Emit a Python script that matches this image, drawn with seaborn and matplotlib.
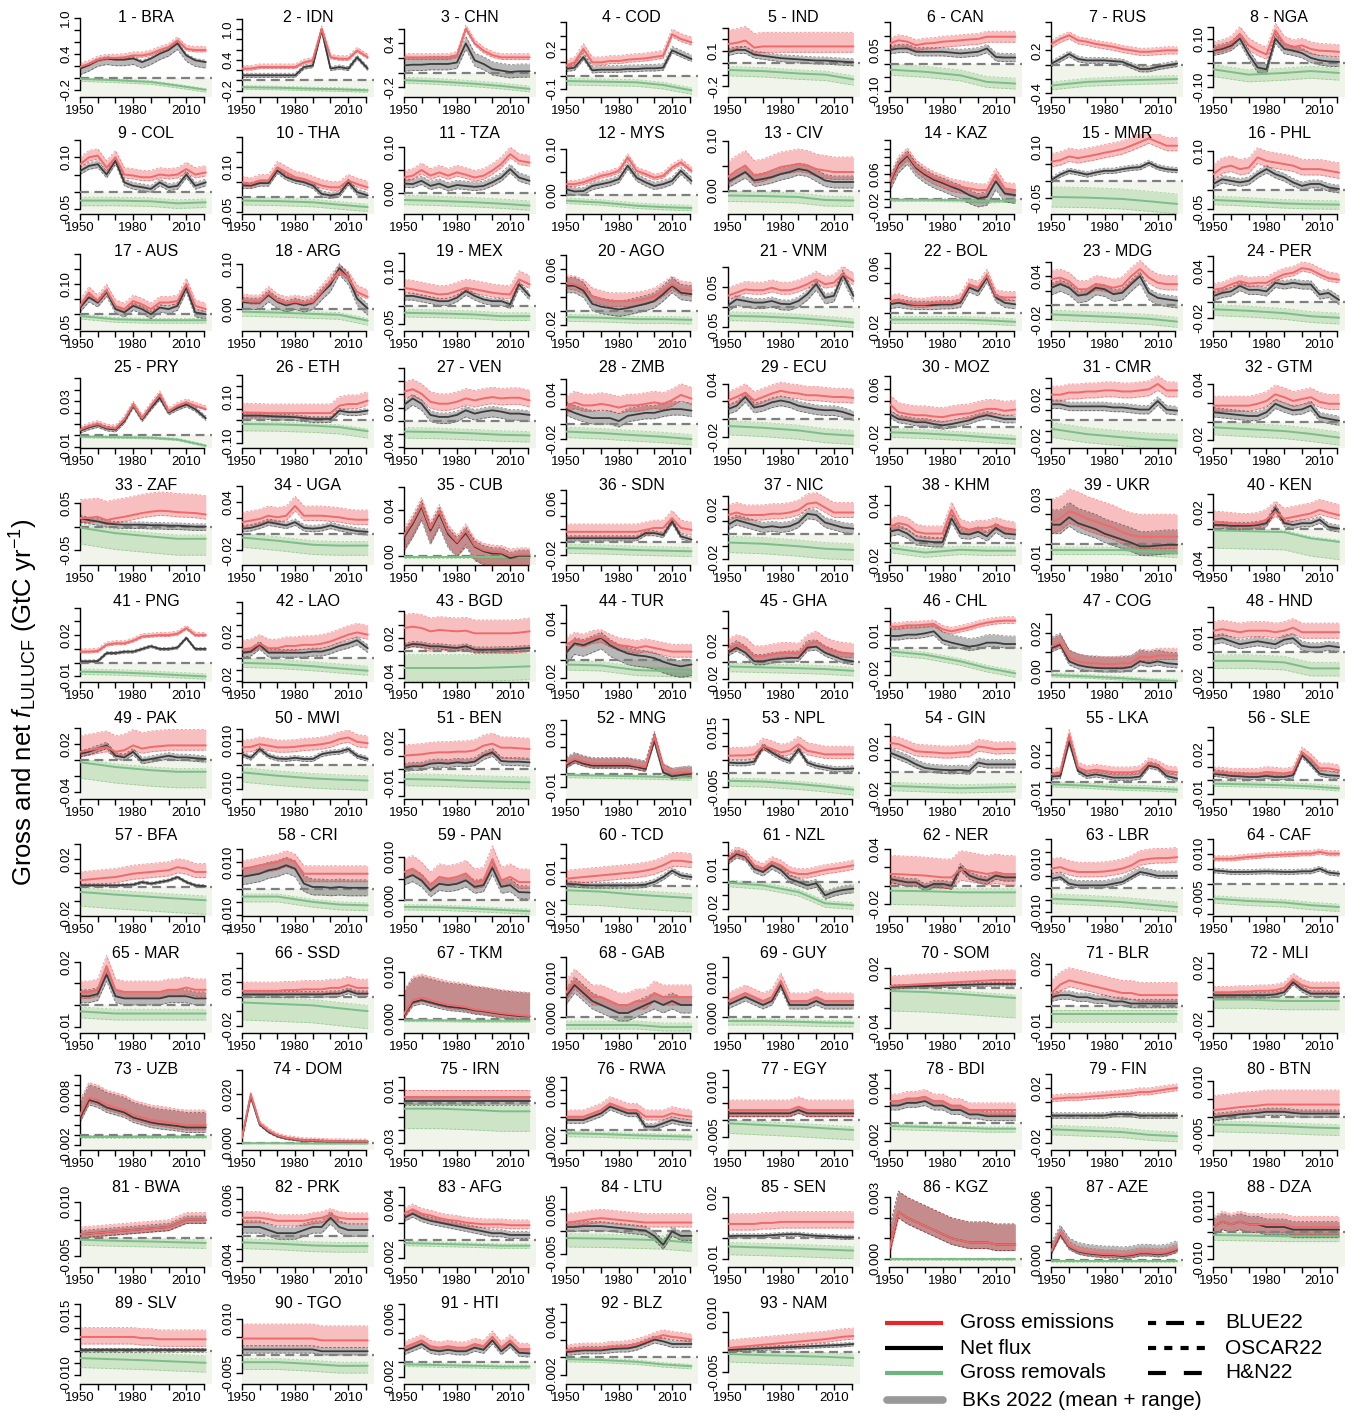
import numpy as np
import matplotlib
matplotlib.use("Agg")
import matplotlib.pyplot as plt
import seaborn as sns

sns.set_theme(style="white")
plt.rcParams['font.family'] = ['Liberation Sans', 'DejaVu Sans']
plt.rcParams['mathtext.fontset'] = 'custom'
plt.rcParams['mathtext.rm'] = 'Liberation Sans'
plt.rcParams['mathtext.it'] = 'Liberation Sans:italic'
plt.rcParams['mathtext.bf'] = 'Liberation Sans:bold'
plt.rcParams['axes.unicode_minus'] = False
for k in ['text.color', 'xtick.color', 'ytick.color', 'axes.labelcolor', 'axes.edgecolor']:
    plt.rcParams[k] = 'black'

# ------------------------------------------------------------------ data
YEARS = [1950, 1955, 1960, 1965, 1970, 1975, 1980, 1985, 1990, 1995, 2000, 2005, 2010, 2015, 2021]
RYEARS = [1950, 1970, 1990, 2005, 2021]

CODES = ["BRA", "IDN", "CHN", "COD", "IND", "CAN", "RUS", "NGA",
         "COL", "THA", "TZA", "MYS", "CIV", "KAZ", "MMR", "PHL",
         "AUS", "ARG", "MEX", "AGO", "VNM", "BOL", "MDG", "PER",
         "PRY", "ETH", "VEN", "ZMB", "ECU", "MOZ", "CMR", "GTM",
         "ZAF", "UGA", "CUB", "SDN", "NIC", "KHM", "UKR", "KEN",
         "PNG", "LAO", "BGD", "TUR", "GHA", "CHL", "COG", "HND",
         "PAK", "MWI", "BEN", "MNG", "NPL", "GIN", "LKA", "SLE",
         "BFA", "CRI", "PAN", "TCD", "NZL", "NER", "LBR", "CAF",
         "MAR", "SSD", "TKM", "GAB", "GUY", "SOM", "BLR", "MLI",
         "UZB", "DOM", "IRN", "RWA", "EGY", "BDI", "FIN", "BTN",
         "BWA", "PRK", "AFG", "LTU", "SEN", "KGZ", "AZE", "DZA",
         "SLV", "TGO", "HTI", "BLZ", "NAM"]

YLIMS = [(-.32, 1.01), (-.32, 1.23), (-.33, .76), (-.16, .44), (-.29, .39), (-.122, .17), (-.45, .665), (-.143, .19),
         (-.065, .168), (-.056, .211), (-.044, .127), (-.041, .133), (-.047, .113), (-.036, .155), (-.099, .14), (-.062, .143),
         (-.056, .211), (-.048, .13), (-.071, .157), (-.029, .086), (-.06, .14), (-.023, .082), (-.036, .075), (-.037, .066),
         (-.011, .059), (-.124, .229), (-.041, .08), (-.032, .075), (-.033, .058), (-.034, .093), (-.026, .049), (-.028, .057),
         (-.082, .089), (-.038, .061), (-.008, .062), (-.035, .088), (-.025, .039), (-.023, .061), (-.014, .0396), (-.04, .05),
         (-.014, .044), (-.021, .05), (-.046, .074), (-.024, .063), (-.023, .07), (-.0255, .0345), (-.006, .0366), (-.02, .033),
         (-.049, .051), (-.014, .019), (-.0225, .0375), (-.019, .041), (-.0094, .02), (-.023, .044), (-.013, .047), (-.014, .046),
         (-.0205, .036), (-.0103, .0198), (-.0036, .0148), (-.0214, .0357), (-.0255, .0345), (-.033, .054), (-.0115, .0214), (-.0108, .0159),
         (-.013, .024), (-.025, .03), (-.003, .014), (-.004, .016), (-.004, .016), (-.045, .035), (-.013, .025), (-.025, .03),
         (-.003, .013), (-.003, .03), (-.035, .025), (-.003, .009), (-.009, .015), (-.003, .006), (-.025, .033), (-.009, .013),
         (-.008, .014), (-.005, .008), (-.003, .006), (-.008, .01), (-.014, .025), (-.0004, .0035), (-.0008, .008), (-.013, .017),
         (-.014, .02), (-.008, .014), (-.003, .008), (-.003, .006), (-.008, .012)]

YSTEPS = [.2, .2, .2, .1, .1, .05, .2, .05,
          .05, .05, .05, .05, .05, .02, .05, .05,
          .05, .05, .05, .02, .05, .02, .02, .02,
          .01, .05, .02, .02, .02, .02, .01, .02,
          .05, .02, .02, .02, .01, .02, .01, .02,
          .01, .01, .02, .02, .02, .01, .01, .01,
          .02, .005, .01, .01, .005, .01, .01, .01,
          .01, .005, .005, .01, .01, .02, .005, .005,
          .01, .01, .005, .005, .005, .02, .01, .01,
          .002, .01, .01, .002, .005, .002, .01, .005,
          .005, .002, .002, .005, .01, .001, .002, .005,
          .005, .005, .002, .002, .005]

YTICKLABELS = [["-0.2", "0.4", "1.0"], ["-0.2", "0.4", "1.0"], ["-0.2", "0.4"], ["-0.1", "0.2"],
               ["-0.2", "0.1"], ["-0.10", "0.05"], ["-0.4", "0.2"], ["-0.10", "0.10"],
               ["-0.05", "0.10"], ["-0.05", "0.10"], ["0.00", "0.10"], ["0.00", "0.10"],
               ["0.00", "0.10"], ["-0.02", "0.06"], ["-0.05", "0.10"], ["-0.05", "0.10"],
               ["-0.05", "0.10"], ["0.00", "0.10"], ["-0.05", "0.10"], ["-0.02", "0.06"],
               ["-0.05", "0.05"], ["-0.02", "0.06"], ["-0.02", "0.04"], ["-0.02", "0.04"],
               ["-0.01", "0.03"], ["-0.10", "0.10"], ["-0.04", "0.02"], ["-0.02", "0.04"],
               ["-0.02", "0.04"], ["-0.02", "0.06"], ["-0.02", "0.02"], ["-0.02", "0.04"],
               ["-0.05", "0.05"], ["-0.02", "0.04"], ["0.00", "0.04"], ["-0.02", "0.06"],
               ["-0.02", "0.02"], ["-0.02", "0.04"], ["-0.01", "0.03"], ["-0.04", "0.02"],
               ["-0.01", "0.02"], ["-0.02", "0.02"], ["-0.04", "0.02"], ["-0.02", "0.04"],
               ["-0.02", "0.02"], ["-0.02", "0.01"], ["0.00", "0.02"], ["-0.02", "0.01"],
               ["-0.04", "0.02"], ["-0.010", "0.010"], ["-0.01", "0.02"], ["-0.01", "0.03"],
               ["-0.005", "0.015"], ["-0.02", "0.02"], ["-0.01", "0.02"], ["-0.01", "0.02"],
               ["-0.02", "0.02"], ["-0.010", "0.010"], ["0.000", "0.010"], ["-0.02", "0.01"],
               ["-0.02", "0.01"], ["-0.02", "0.04"], ["-0.010", "0.010"], ["-0.005", "0.010"],
               ["-0.01", "0.02"], ["-0.02", "0.01"], ["0.000", "0.010"], ["0.000", "0.010"],
               ["0.000", "0.010"], ["-0.04", "0.02"], ["-0.01", "0.02"], ["-0.02", "0.02"],
               ["-0.002", "0.008"], ["0.000", "0.020"], ["-0.03", "0.01"], ["-0.002", "0.006"],
               ["-0.005", "0.010"], ["-0.002", "0.004"], ["-0.02", "0.02"], ["-0.005", "0.010"],
               ["-0.005", "0.010"], ["-0.004", "0.006"], ["-0.002", "0.004"], ["-0.005", "0.005"],
               ["-0.01", "0.02"], ["0.000", "0.003"], ["0.000", "0.006"], ["-0.010", "0.010"],
               ["-0.010", "0.015"], ["-0.005", "0.010"], ["-0.002", "0.006"], ["-0.002", "0.004"],
               ["-0.005", "0.010"]]

# gross emissions (mean of bookkeeping models) at YEARS
GROSS = [
    [.18, .23, .30, .33, .33, .34, .37, .37, .40, .46, .51, .62, .48, .46, .46],
    [.23, .23, .26, .26, .26, .26, .26, .35, .39, 1.0, .45, .42, .42, .58, .45],
    [.21, .21, .21, .21, .21, .21, .24, .60, .40, .30, .24, .21, .21, .21, .21],
    [.075, .10, .20, .10, .10, .11, .11, .12, .125, .13, .14, .15, .31, .275, .25],
    [.16, .17, .19, .13, .14, .14, .14, .14, .14, .14, .14, .14, .14, .14, .14],
    [.073, .085, .08, .067, .073, .075, .08, .082, .085, .088, .09, .098, .098, .098, .098],
    [.29, .36, .41, .34, .32, .29, .27, .25, .22, .20, .18, .18, .19, .20, .20],
    [.057, .065, .08, .12, .072, .05, .034, .134, .08, .065, .072, .057, .05, .048, .045],
    [.08, .10, .105, .07, .10, .05, .047, .042, .042, .05, .047, .05, .066, .05, .056],
    [.05, .044, .056, .056, .10, .083, .067, .061, .05, .039, .033, .033, .056, .044, .033],
    [.034, .038, .05, .038, .045, .038, .045, .04, .034, .038, .049, .063, .084, .07, .066],
    [.024, .024, .028, .035, .042, .046, .053, .082, .053, .046, .038, .042, .06, .071, .053],
    [.027, .04, .05, .03, .033, .04, .047, .05, .053, .05, .043, .04, .037, .037, .037],
    [.042, .087, .107, .078, .062, .05, .042, .033, .029, .025, .021, .021, .058, .025, .021],
    [.057, .062, .073, .068, .073, .078, .084, .089, .095, .105, .116, .127, .116, .105, .105],
    [.04, .057, .062, .053, .057, .083, .074, .07, .066, .062, .053, .053, .053, .049, .044],
    [.028, .072, .044, .08, .028, .017, .044, .033, .017, .039, .039, .044, .10, .028, .017],
    [.02, .017, .017, .036, .02, .013, .017, .013, .017, .039, .062, .085, .07, .039, .028],
    [.052, .048, .043, .038, .033, .035, .043, .052, .048, .043, .038, .035, .033, .076, .062],
    [.04, .038, .033, .021, .017, .014, .014, .014, .015, .017, .021, .029, .038, .031, .029],
    [.028, .036, .044, .042, .042, .048, .042, .042, .048, .057, .069, .057, .061, .082, .065],
    [.016, .018, .014, .012, .012, .014, .014, .014, .018, .038, .034, .05, .023, .021, .021],
    [.036, .038, .033, .022, .022, .029, .027, .024, .027, .04, .05, .038, .031, .029, .029],
    [.016, .018, .023, .027, .024, .025, .025, .031, .036, .038, .044, .042, .036, .031, .029],
    [.005, .008, .01, .007, .006, .014, .027, .015, .026, .036, .021, .026, .029, .026, .023],
    [.034, .032, .032, .03, .03, .03, .03, .03, .03, .03, .03, .063, .07, .07, .085],
    [.044, .048, .041, .029, .026, .026, .029, .034, .031, .034, .036, .034, .035, .035, .031],
    [.022, .029, .025, .025, .027, .025, .022, .025, .025, .027, .029, .027, .032, .039, .034],
    [.021, .025, .03, .021, .025, .029, .032, .03, .029, .027, .027, .026, .025, .025, .024],
    [.036, .023, .02, .018, .018, .016, .015, .018, .02, .021, .025, .028, .028, .025, .027],
    [.024, .024, .026, .026, .027, .027, .028, .028, .027, .027, .028, .029, .034, .028, .028],
    [.017, .017, .017, .017, .017, .019, .022, .029, .026, .022, .024, .026, .021, .019, .019],
    [.018, .019, .021, .014, .018, .021, .025, .029, .032, .034, .033, .031, .03, .029, .026],
    [.015, .017, .019, .023, .021, .023, .035, .023, .023, .023, .022, .021, .019, .018, .018],
    [.018, .03, .045, .024, .039, .021, .012, .022, .009, .005, .0035, .003, .0, .001, .001],
    [.016, .016, .016, .016, .016, .016, .016, .016, .016, .019, .022, .022, .037, .022, .019],
    [.015, .017, .015, .015, .015, .016, .016, .017, .019, .024, .025, .021, .017, .017, .017],
    [.017, .021, .019, .012, .01, .01, .01, .035, .017, .014, .016, .016, .019, .016, .014],
    [.015, .017, .022, .02, .017, .015, .013, .011, .008, .006, .005, .005, .005, .005, .005],
    [.009, .008, .007, .006, .006, .007, .011, .02, .012, .014, .016, .018, .022, .019, .016],
    [.008, .008, .0085, .013, .014, .014, .016, .019, .0195, .02, .02, .021, .025, .02, .02],
    [.008, .009, .013, .009, .009, .011, .011, .012, .012, .013, .015, .018, .021, .023, .021],
    [.035, .037, .035, .03, .032, .031, .03, .031, .027, .027, .027, .027, .027, .028, .03],
    [.016, .022, .02, .024, .025, .02, .016, .015, .013, .015, .013, .011, .009, .009, .009],
    [.015, .02, .017, .007, .007, .009, .011, .011, .01, .02, .024, .017, .013, .011, .01],
    [.016, .016, .017, .017, .0175, .018, .014, .0125, .014, .0155, .0175, .019, .02, .0205, .0205],
    [.013, .015, .007, .005, .004, .004, .0035, .0035, .004, .004, .0075, .007, .008, .008, .008],
    [.014, .015, .014, .013, .014, .014, .014, .013, .014, .016, .013, .013, .013, .013, .013],
    [.01, .012, .014, .016, .01, .012, .018, .014, .016, .017, .018, .018, .018, .018, .018],
    [.0073, .0075, .0086, .008, .0073, .0073, .0075, .008, .0082, .0086, .0093, .0107, .0114, .0096, .009],
    [.01, .0105, .011, .012, .0125, .0125, .013, .013, .014, .0175, .019, .016, .016, .0155, .015],
    [.0075, .011, .009, .0075, .0075, .0075, .0075, .0075, .006, .005, .028, .004, .0, .001, .001],
    [.0065, .0066, .0066, .007, .010, .009, .0077, .0083, .0107, .0083, .0077, .007, .007, .007, .007],
    [.024, .023, .02, .017, .0164, .016, .0153, .0153, .016, .0164, .021, .02, .0186, .019, .019],
    [.0055, .007, .035, .0105, .008, .009, .008, .007, .007, .007, .008, .014, .012, .008, .007],
    [.006, .0058, .005, .005, .005, .005, .0063, .0058, .005, .0063, .021, .016, .009, .009, .0075],
    [.0047, .0053, .0059, .0065, .007, .0082, .0094, .01, .0106, .0112, .0118, .014, .013, .0106, .0106],
    [.0075, .008, .0088, .0094, .01, .0113, .01, .0056, .0056, .0056, .0056, .0056, .0056, .0056, .0056],
    [.0065, .0073, .0058, .0035, .0054, .005, .0054, .0062, .0042, .0046, .0095, .0046, .0054, .0042, .0042],
    [.0052, .0058, .0064, .007, .0076, .0082, .0088, .0094, .01, .011, .0124, .0148, .018, .018, .017],
    [.0175, .0225, .02, .0125, .01, .015, .0125, .0075, .006, .006, .0075, .009, .01, .011, .0125],
    [.0127, .0125, .012, .0115, .011, .01, .009, .009, .018, .0164, .0145, .0127, .0145, .0127, .0127],
    [.008, .0086, .0073, .0066, .0066, .0066, .0068, .0073, .008, .0093, .0114, .012, .0123, .0123, .0127],
    [.0083, .0083, .0083, .0086, .0089, .0091, .0094, .0095, .0097, .0098, .01, .01, .0106, .01, .01],
    [.006, .006, .007, .018, .007, .006, .006, .006, .006, .006, .007, .007, .008, .007, .007],
    [.004, .004, .004, .004, .004, .0045, .0045, .005, .005, .005, .006, .006, .008, .006, .006],
    [.001, .004, .0045, .004, .0035, .003, .0028, .0025, .002, .0018, .0015, .0012, .001, .0008, .0006],
    [.006, .009, .007, .005, .005, .004, .003, .003, .004, .004, .006, .005, .005, .005, .005],
    [.004, .005, .006, .005, .004, .005, .009, .004, .004, .004, .005, .004, .004, .004, .004],
    [.002, .0025, .003, .0035, .004, .0045, .005, .0055, .006, .0065, .007, .0075, .008, .008, .008],
    [.006, .01, .012, .011, .01, .009, .008, .007, .006, .006, .005, .005, .005, .005, .005],
    [.003, .003, .003, .0035, .0035, .004, .004, .0045, .006, .012, .008, .006, .006, .006, .006],
    [.004, .0075, .007, .006, .0055, .005, .004, .0035, .003, .0028, .0025, .0022, .002, .002, .002],
    [.002, .02, .008, .005, .003, .002, .0015, .001, .001, .0008, .0006, .0006, .0005, .0005, .0005],
    [.005, .005, .005, .005, .005, .005, .005, .005, .005, .005, .005, .005, .005, .005, .005],
    [.002, .002, .002, .0025, .003, .004, .0035, .003, .003, .002, .002, .002, .0025, .0022, .002],
    [.003, .003, .003, .003, .003, .003, .003, .003, .004, .003, .003, .003, .003, .003, .003],
    [.0025, .0025, .0028, .0028, .003, .0025, .0025, .002, .002, .0015, .0015, .0015, .0015, .0015, .0015],
    [.012, .0125, .013, .013, .0135, .014, .0145, .015, .0155, .016, .017, .017, .018, .019, .02],
    [.002, .0022, .0025, .0028, .003, .0032, .0035, .0035, .0035, .0035, .0035, .0035, .0035, .0035, .0035],
    [.001, .0012, .0014, .0016, .0018, .002, .0022, .0024, .0026, .0028, .003, .004, .005, .005, .005],
    [.003, .003, .003, .0028, .0025, .0025, .0025, .0025, .0028, .003, .0035, .003, .0028, .0028, .0028],
    [.003, .0035, .003, .0028, .0025, .0023, .0022, .002, .0019, .0018, .0018, .0018, .0017, .0017, .0017],
    [.002, .0022, .0025, .0028, .003, .0028, .0026, .0024, .0022, .002, .002, .002, .002, .002, .002],
    [.007, .007, .007, .007, .0075, .0075, .008, .008, .008, .008, .008, .008, .008, .008, .008],
    [.0005, .0023, .002, .0018, .0016, .0014, .0012, .001, .0009, .0008, .0008, .0008, .0007, .0007, .0007],
    [.001, .003, .0015, .001, .0008, .0007, .0006, .0006, .0005, .0006, .0008, .0008, .0007, .0008, .0012],
    [.002, .004, .003, .004, .003, .003, .003, .003, .003, .002, .002, .002, .002, .002, .002],
    [.006, .006, .006, .006, .006, .006, .006, .0055, .0055, .005, .005, .005, .005, .005, .005],
    [.0045, .0045, .0045, .0045, .0045, .0045, .0045, .0045, .0045, .004, .004, .004, .004, .004, .004],
    [.002, .0025, .003, .0022, .002, .0022, .002, .002, .0025, .0022, .0035, .002, .003, .0018, .0018],
    [.0008, .0009, .001, .001, .001, .0012, .0012, .0013, .0015, .0018, .0022, .0025, .0023, .0022, .002],
    [.001, .0012, .0014, .0016, .0018, .002, .0022, .0024, .0026, .0028, .003, .0032, .0035, .0038, .004],
]

# net flux at YEARS
NET = [
    [.15, .21, .29, .32, .30, .30, .32, .26, .32, .40, .46, .57, .37, .29, .26],
    [.10, .10, .10, .10, .10, .10, .10, .26, .29, .98, .23, .26, .23, .45, .23],
    [.10, .11, .11, .12, .12, .12, .14, .40, .17, .12, .05, .03, .01, .02, .02],
    [.05, .06, .14, .04, .045, .045, .045, .05, .05, .055, .055, .06, .19, .16, .125],
    [.09, .11, .11, .07, .06, .05, .04, .035, .03, .025, .02, .02, .015, .01, .005],
    [.05, .055, .055, .043, .043, .043, .043, .04, .037, .04, .043, .055, .024, .022, .022],
    [.015, .08, .15, .08, .06, .06, .06, .05, .04, -.01, -.06, -.06, -.03, -.01, .015],
    [.05, .057, .07, .10, .034, -.02, -.028, .10, .057, .05, .04, .02, .01, .005, .003],
    [.06, .075, .08, .05, .09, .027, .017, .013, .008, .027, .013, .017, .05, .017, .027],
    [.039, .039, .047, .047, .089, .067, .056, .05, .039, .011, .006, .011, .05, .017, .006],
    [.021, .02, .027, .016, .021, .013, .018, .016, .014, .016, .024, .034, .052, .034, .027],
    [.013, .008, .009, .02, .024, .028, .035, .064, .038, .028, .02, .024, .031, .053, .031],
    [.017, .027, .037, .02, .023, .027, .033, .037, .043, .04, .03, .02, .017, .017, .017],
    [.038, .082, .103, .074, .058, .046, .038, .029, .021, .009, .001, .005, .042, .013, .009],
    [.003, .019, .03, .025, .019, .025, .03, .03, .035, .039, .041, .054, .041, .035, .032],
    [.015, .027, .023, .019, .023, .04, .053, .04, .032, .019, .01, .015, .015, .006, .002],
    [.022, .056, .039, .075, .017, .006, .028, .017, .0, .022, .017, .028, .089, .006, .0],
    [.017, .015, .015, .032, .017, .009, .015, .009, .015, .036, .055, .092, .07, .024, .002],
    [.029, .029, .024, .019, .014, .014, .024, .043, .029, .019, .014, .014, .005, .062, .029],
    [.036, .036, .029, .01, .006, .004, .002, .004, .007, .01, .014, .024, .036, .026, .024],
    [.003, .019, .015, .011, .011, .015, .008, .007, .015, .032, .057, .023, .028, .082, .028],
    [.012, .014, .012, .011, .011, .011, .012, .012, .014, .034, .029, .047, .021, .014, .012],
    [.024, .029, .024, .013, .015, .024, .022, .015, .017, .029, .04, .017, .01, .008, .006],
    [.008, .012, .014, .021, .016, .016, .014, .025, .023, .025, .023, .023, .01, .012, .003],
    [.004, .007, .009, .006, .005, .0125, .026, .014, .024, .033, .02, .024, .027, .023, .015],
    [.019, .019, .019, .017, .015, .014, .012, .008, .004, .004, .004, .041, .034, .034, .041],
    [.024, .034, .026, .009, .006, .006, .009, .016, .011, .014, .016, .014, .011, .011, .009],
    [.02, .015, .011, .008, .008, .008, .004, .011, .013, .015, .015, .018, .02, .02, .018],
    [.011, .015, .025, .013, .015, .019, .021, .019, .015, .013, .011, .01, .01, .008, .004],
    [.02, .012, .01, .007, .007, .004, .002, .004, .007, .01, .015, .018, .015, .012, .012],
    [.015, .015, .013, .013, .013, .013, .013, .012, .012, .011, .01, .01, .018, .01, .009],
    [.01, .009, .008, .007, .006, .006, .01, .019, .015, .012, .013, .017, .005, .003, .001],
    [.018, .014, .011, .007, .005, .004, .004, .004, .003, .003, .002, .002, .001, .0, .0],
    [.007, .008, .011, .015, .013, .011, .015, .008, .007, .008, .011, .008, .006, .004, .003],
    [.016, .028, .043, .022, .037, .019, .011, .02, .008, .004, .002, .002, -.002, .0, .0],
    [.006, .006, .006, .006, .006, .006, .006, .006, .006, .014, .014, .011, .032, .009, .004],
    [.007, .011, .009, .007, .005, .006, .005, .006, .009, .016, .015, .009, .007, .005, .004],
    [.012, .014, .01, .003, .002, .001, .001, .026, .01, .009, .012, .007, .016, .01, .009],
    [.013, .013, .018, .014, .012, .01, .007, .005, .003, .001, -.0015, -.0015, -.001, -.0005, -.0005],
    [.005, .005, .004, .004, .004, .005, .007, .024, .007, .005, .007, .007, .011, .003, .001],
    [.001, .001, .0012, .007, .007, .008, .008, .01, .012, .01, .01, .011, .018, .01, .01],
    [.005, .006, .012, .005, .005, .005, .005, .005, .006, .006, .008, .011, .013, .016, .009],
    [.0075, .011, .01, .0075, .0075, .006, .005, .0075, .0025, .0025, .0025, .003, .003, .004, .005],
    [.007, .018, .016, .02, .024, .016, .011, .007, .005, .004, .002, -.002, -.005, -.007, -.005],
    [.011, .017, .011, .001, .001, .003, .004, .005, .005, .017, .018, .011, .007, .003, .001],
    [.009, .009, .01, .01, .011, .0125, .006, .004, .0025, .001, .002, .004, .004, .003, .003],
    [.012, .014, .005, .003, .002, .0015, .0013, .0013, .0013, .002, .005, .004, .005, .004, .0035],
    [.008, .009, .007, .005, .006, .007, .006, .005, .008, .009, .004, .003, .003, .004, .003],
    [.0075, .01, .014, .018, .005, .003, .01, -.001, .001, .003, .005, .003, .003, .002, .001],
    [.0045, .003, .0066, .0038, .0027, .0025, .003, .0025, .0025, .0045, .0052, .0055, .0066, .0038, .0025],
    [.001, .002, .002, .004, .0045, .004, .005, .0045, .0055, .01, .0125, .006, .0055, .0055, .005],
    [.006, .01, .0075, .006, .006, .006, .006, .006, .005, .0035, .025, .001, -.002, -.001, .0],
    [.004, .0038, .0038, .0043, .010, .0077, .0058, .0046, .0089, .004, .0028, .0022, .0016, .0016, .0018],
    [.016, .013, .01, .006, .003, .002, .0014, .0011, .0014, .0006, .0075, .006, .006, .006, .006],
    [.0038, .0043, .03, .008, .0043, .0055, .0043, .003, .003, .003, .0038, .012, .0105, .0043, .0023],
    [.005, .0043, .0033, .003, .0025, .0025, .0033, .0025, .0025, .0038, .019, .0125, .005, .0038, .0033],
    [.0012, .0012, .0012, .0012, .0012, .0014, .0017, .0035, .0024, .0035, .0047, .007, .0035, .0012, .0005],
    [.0044, .005, .0056, .0069, .0075, .0088, .0075, .0019, .0006, .0006, .0003, .0006, .0003, .0003, .0003],
    [.005, .0058, .0046, .0023, .0038, .0035, .0038, .0046, .0031, .0035, .0075, .0031, .0035, .0019, .0018],
    [.0017, .0012, .0007, .0005, .0005, .0005, .0005, .0005, .0005, .001, .0029, .0064, .011, .0076, .0064],
    [.016, .021, .019, .01, .0075, .0125, .009, .0025, .0, -.0025, -.001, -.01, -.0075, -.006, -.005],
    [.0073, .0055, .0036, .0036, -.002, .0018, .0018, .0, .02, .011, .0073, .0055, .011, .009, .009],
    [.0038, .0045, .0018, .0011, .0011, .0011, .0011, .0018, .0025, .0045, .0066, .0059, .005, .005, .005],
    [.0044, .0042, .0039, .0039, .0039, .004, .0041, .004, .0039, .0039, .0041, .0041, .005, .0037, .0033],
    [.004, .004, .005, .014, .004, .003, .003, .003, .003, .003, .004, .004, .004, .003, .003],
    [.0015, .0015, .0015, .0015, .0015, .0015, .0015, .0015, .0015, .0015, .002, .002, .004, .002, .002],
    [.0008, .0035, .004, .0035, .003, .0026, .0024, .0022, .0018, .0016, .0013, .001, .0008, .0006, .0005],
    [.005, .008, .006, .004, .003, .002, .001, .001, .002, .003, .004, .003, .004, .003, .003],
    [.003, .004, .005, .004, .003, .004, .008, .003, .003, .003, .004, .003, .003, .003, .003],
    [.001, .0012, .0015, .0018, .002, .0022, .0025, .0028, .003, .0032, .0035, .0038, .004, .004, .004],
    [.004, .005, .005, .004, .004, .003, .003, .002, .002, .001, .001, .001, .001, .001, .001],
    [.001, .001, .001, .001, .001, .001, .001, .0015, .003, .01, .005, .002, .002, .002, .002],
    [.0035, .007, .0065, .0055, .005, .0045, .0035, .003, .0025, .0022, .002, .0018, .0015, .0015, .0015],
    [.0018, .019, .0075, .0045, .0027, .0018, .0013, .0009, .0009, .0007, .0005, .0005, .0004, .0004, .0004],
    [.002, .002, .002, .002, .002, .002, .002, .002, .002, .002, .002, .002, .002, .002, .002],
    [.0015, .0015, .0015, .002, .0025, .0035, .003, .0025, .0025, .0005, .0005, .001, .0015, .0012, .001],
    [.002, .002, .002, .002, .002, .002, .002, .002, .003, .002, .002, .002, .002, .002, .002],
    [.002, .002, .0023, .0023, .0025, .002, .002, .0015, .0015, .001, .001, .0008, .0008, .0008, .0008],
    [.0, .0, .0, .0, .0, .0, .0, .001, .001, .001, .0, .0, .0, .0, .0],
    [.0, .0003, .0005, .0008, .001, .0012, .0015, .0015, .0015, .0012, .001, .001, .001, .001, .001],
    [.001, .0012, .0014, .0016, .0018, .002, .0022, .0024, .0026, .0028, .003, .004, .005, .005, .005],
    [.0015, .0015, .0015, .001, .0005, .0005, .0005, .001, .0015, .0015, .003, .0015, .001, .001, .001],
    [.0025, .003, .0025, .0022, .002, .0018, .0016, .0014, .0012, .001, .0008, .0008, .0006, .0006, .0006],
    [.001, .001, .0012, .0012, .0012, .001, .0008, .0006, .0004, .0002, -.001, -.003, .0, -.001, -.001],
    [.001, .0012, .0012, .0012, .0012, .0015, .0018, .002, .002, .0015, .0012, .001, .0008, .0005, .0005],
    [.0005, .0023, .002, .0018, .0016, .0014, .0012, .001, .0009, .0008, .0008, .0008, .0007, .0007, .0007],
    [.0009, .0028, .0014, .0009, .0007, .0006, .0005, .0005, .0004, .0005, .0007, .0007, .0006, .0007, .0011],
    [.002, .004, .003, .004, .003, .003, .002, .002, .002, .001, .001, .001, .001, .001, .001],
    [.0005, .0005, .0005, .0005, .0005, .0005, .0005, .0005, .0005, .0005, .0005, .0005, .0005, .0005, .0005],
    [.0015, .0015, .0015, .0015, .0015, .0015, .0015, .0015, .0015, .001, .001, .001, .001, .001, .001],
    [.0015, .002, .0025, .0017, .0015, .0017, .0015, .0015, .002, .0017, .003, .0015, .0025, .0013, .0012],
    [.0006, .0007, .0008, .0008, .0008, .0009, .001, .001, .0012, .0016, .002, .0018, .0015, .0015, .0015],
    [.0005, .0006, .0007, .0008, .0009, .001, .0011, .0012, .0013, .0014, .0015, .0016, .0017, .0018, .002],
]

# gross removals at RYEARS
REMOVAL = [
    [-.02, -.04, -.07, -.13, -.20], [-.13, -.14, -.16, -.17, -.19], [-.10, -.12, -.15, -.18, -.22], [-.04, -.045, -.05, -.07, -.11],
    [-.06, -.07, -.09, -.10, -.14], [-.022, -.03, -.043, -.067, -.073], [-.29, -.24, -.22, -.21, -.20], [-.028, -.05, -.043, -.035, -.043],
    [-.026, -.026, -.028, -.034, -.031], [-.011, -.013, -.017, -.025, -.033], [-.014, -.016, -.019, -.022, -.026], [-.012, -.016, -.023, -.026, -.028],
    [-.01, -.011, -.013, -.019, -.02], [-.002, -.002, -.003, -.006, -.003], [-.048, -.05, -.054, -.061, -.069], [-.026, -.03, -.035, -.037, -.038],
    [-.006, -.017, -.02, -.02, -.02], [-.005, -.007, -.01, -.012, -.025], [-.019, -.021, -.024, -.029, -.029], [-.009, -.01, -.012, -.012, -.013],
    [-.022, -.024, -.028, -.033, -.039], [-.008, -.008, -.008, -.009, -.011], [-.013, -.015, -.017, -.019, -.023], [-.009, -.011, -.014, -.018, -.02],
    [-.001, -.0015, -.002, -.0035, -.009], [-.018, -.02, -.025, -.032, -.05], [-.016, -.017, -.019, -.021, -.022], [-.01, -.012, -.015, -.017, -.02],
    [-.008, -.01, -.013, -.017, -.019], [-.009, -.011, -.014, -.017, -.02], [-.008, -.013, -.016, -.018, -.019], [-.006, -.008, -.01, -.013, -.017],
    [-.002, -.014, -.021, -.026, -.026], [-.004, -.008, -.013, -.014, -.014], [-.001, -.001, -.001, -.001, -.001], [-.009, -.01, -.012, -.013, -.014],
    [-.007, -.008, -.01, -.012, -.013], [-.005, -.01, -.007, -.008, -.008], [-.004, -.004, -.004, -.005, -.006], [-.001, -.002, -.003, -.01, -.014],
    [-.0065, -.007, -.008, -.009, -.01], [-.004, -.005, -.007, -.009, -.011], [-.025, -.025, -.025, -.024, -.0225], [-.005, -.006, -.011, -.012, -.013],
    [-.005, -.006, -.007, -.008, -.01], [-.0025, -.005, -.01, -.015, -.019], [-.0023, -.003, -.004, -.005, -.0055], [-.006, -.006, -.007, -.011, -.011],
    [-.003, -.009, -.013, -.015, -.015], [-.003, -.0044, -.0055, -.006, -.0064], [-.0075, -.008, -.009, -.0095, -.01], [-.001, -.0015, -.002, -.0025, -.003],
    [-.0027, -.003, -.0039, -.0048, -.006], [-.012, -.013, -.014, -.0135, -.013], [-.002, -.003, -.0045, -.005, -.006], [-.0025, -.003, -.0037, -.0045, -.006],
    [-.0035, -.0054, -.007, -.0082, -.0094], [-.003, -.003, -.005, -.006, -.0063], [-.0015, -.0016, -.0019, -.0022, -.0025], [-.003, -.004, -.0062, -.0074, -.0086],
    [-.0005, -.0025, -.0075, -.016, -.0175], [-.0055, -.006, -.0073, -.0073, -.0073], [-.0044, -.005, -.0058, -.0068, -.0078], [-.005, -.0058, -.0063, -.0072, -.0078],
    [-.003, -.004, -.004, -.004, -.004], [-.004, -.005, -.006, -.008, -.01], [-.0003, -.0003, -.0004, -.0004, -.0004], [-.002, -.002, -.002, -.0025, -.0025],
    [-.001, -.001, -.0012, -.0014, -.0015], [-.003, -.004, -.006, -.008, -.01], [-.004, -.004, -.004, -.004, -.004], [-.002, -.002, -.003, -.003, -.003],
    [-.0003, -.0003, -.0003, -.0003, -.0003], [-.0002, -.0002, -.0003, -.0003, -.0003], [-.004, -.004, -.005, -.006, -.006], [-.0005, -.0006, -.0008, -.0009, -.001],
    [-.001, -.0015, -.002, -.0025, -.003], [-.0003, -.0004, -.0005, -.0006, -.0006], [-.01, -.011, -.012, -.014, -.015], [-.002, -.0022, -.0025, -.0028, -.003],
    [-.0005, -.0008, -.001, -.0012, -.0014], [-.001, -.0012, -.0015, -.0016, -.0016], [-.0003, -.0004, -.0005, -.0006, -.0006], [-.0015, -.0016, -.0018, -.002, -.0025],
    [-.004, -.0045, -.005, -.0055, -.006], [-.00002, -.00002, -.00002, -.00002, -.00002], [-.0001, -.0001, -.0001, -.0001, -.0001], [-.001, -.0012, -.0015, -.0015, -.0015],
    [-.003, -.0035, -.004, -.0045, -.005], [-.002, -.002, -.0025, -.003, -.003], [-.0003, -.0004, -.0005, -.0006, -.0006], [-.0002, -.0003, -.0005, -.0008, -.001],
    [-.0005, -.0008, -.001, -.0012, -.0015],
]

# (below, above) spread of the model range around each mean
GROSS_RANGE = [(.03, .06), (.03, .06), (.03, .05), (.02, .04), (.05, .12), (.02, .02), (.05, .05), (.02, .03),
               (.01, .02), (.01, .02), (.008, .015), (.005, .008), (.015, .03), (.015, .015), (.015, .025), (.015, .025),
               (.01, .02), (.005, .015), (.012, .025), (.008, .012), (.01, .02), (.004, .008), (.008, .012), (.004, .008),
               (.001, .003), (.02, .04), (.01, .015), (.008, .015), (.006, .01), (.008, .015), (.006, .008), (.006, .01),
               (.01, .04), (.006, .012), (.012, .006), (.008, .012), (.004, .008), (.005, .008), (.008, .015), (.005, .012),
               (.001, .002), (.004, .008), (.03, .02), (.006, .008), (.005, .012), (.002, .003), (.002, .004), (.004, .006),
               (.006, .02), (.002, .003), (.008, .008), (.003, .004), (.0015, .003), (.004, .006), (.002, .004), (.002, .004),
               (.004, .006), (.003, .003), (.0015, .003), (.004, .006), (.003, .004), (.012, .02), (.002, .004), (.0007, .001),
               (.003, .005), (.003, .006), (.0008, .005), (.002, .003), (.001, .002), (.003, .01), (.003, .006), (.003, .004),
               (.001, .003), (.0005, .001), (.003, .005), (.0005, .001), (.002, .003), (.0005, .0008), (.002, .003), (.002, .004),
               (.001, .002), (.0008, .001), (.0004, .0006), (.001, .002), (.003, .005), (.0003, .001), (.0003, .0005), (.003, .004),
               (.003, .004), (.002, .004), (.0005, .0008), (.0003, .0006), (.0008, .002)]

NET_RANGE = [(.10, .03), (.04, .04), (.08, .10), (.02, .03), (.03, .03), (.015, .015), (.04, .04), (.02, .02),
             (.01, .01), (.01, .01), (.008, .01), (.008, .008), (.012, .012), (.02, .012), (.008, .008), (.01, .01),
             (.015, .01), (.015, .01), (.012, .008), (.01, .012), (.015, .01), (.006, .005), (.01, .006), (.006, .005),
             (.002, .002), (.015, .01), (.01, .006), (.008, .01), (.006, .005), (.006, .006), (.004, .004), (.005, .005),
             (.008, .006), (.004, .004), (.012, .005), (.004, .004), (.004, .004), (.005, .005), (.006, .01), (.004, .004),
             (.001, .001), (.004, .003), (.004, .004), (.012, .006), (.004, .008), (.003, .006), (.002, .006), (.003, .003),
             (.004, .004), (.001, .001), (.003, .003), (.002, .006), (.001, .001), (.003, .004), (.002, .003), (.002, .003),
             (.001, .001), (.003, .003), (.0015, .0015), (.002, .002), (.003, .003), (.004, .004), (.001, .002), (.0008, .0008),
             (.003, .003), (.002, .002), (.0008, .005), (.002, .002), (.001, .001), (.002, .002), (.002, .002), (.002, .002),
             (.001, .003), (.0005, .0005), (.003, .003), (.0005, .0005), (.001, .001), (.0005, .0005), (.002, .002), (.001, .001),
             (.001, .001), (.001, .001), (.0004, .0004), (.001, .001), (.001, .001), (.0003, .001), (.0003, .001), (.003, .003),
             (.001, .001), (.001, .001), (.0005, .0005), (.0004, .0004), (.0005, .0005)]

REMOVAL_RANGE = [(.04, .02), (.04, .03), (.04, .04), (.03, .02), (.05, .03), (.02, .02), (.06, .05), (.03, .02),
                 (.015, .01), (.015, .01), (.01, .01), (.006, .006), (.012, .008), (.004, .003), (.03, .03), (.012, .01),
                 (.01, .006), (.01, .005), (.012, .01), (.006, .004), (.012, .01), (.005, .004), (.008, .006), (.008, .006),
                 (.001, .001), (.03, .01), (.01, .006), (.008, .006), (.01, .006), (.008, .006), (.008, .006), (.008, .006),
                 (.035, .008), (.012, .005), (.001, .0005), (.008, .006), (.008, .005), (.005, .004), (.003, .002), (.02, .002),
                 (.002, .002), (.004, .004), (.02, .02), (.006, .004), (.006, .004), (.003, .002), (.001, .001), (.005, .004),
                 (.02, .004), (.004, .002), (.005, .004), (.002, .001), (.002, .001), (.004, .003), (.002, .002), (.002, .002),
                 (.01, .003), (.002, .001), (.0007, .0005), (.01, .003), (.003, .002), (.015, .004), (.002, .002), (.0015, .001),
                 (.003, .002), (.012, .004), (.0003, .0002), (.001, .001), (.001, .0005), (.02, .003), (.004, .002), (.006, .003),
                 (.0003, .0003), (.0002, .0001), (.015, .004), (.0005, .0003), (.003, .001), (.0004, .0002), (.004, .003), (.002, .001),
                 (.0015, .0008), (.001, .0006), (.0003, .0002), (.002, .001), (.004, .002), (.00003, .00002), (.0001, .00005), (.002, .001),
                 (.004, .003), (.002, .001), (.0003, .0002), (.0003, .0002), (.002, .001)]

for arr, n in [(GROSS, 15), (NET, 15), (REMOVAL, 5)]:
    assert len(arr) == len(CODES), (len(arr), len(CODES))
    for j, row in enumerate(arr):
        assert len(row) == n, (j, len(row))
for arr in [YLIMS, YSTEPS, YTICKLABELS, GROSS_RANGE, NET_RANGE, REMOVAL_RANGE]:
    assert len(arr) == len(CODES), len(arr)

# ------------------------------------------------------------------ style
BG_NEG = '#f1f4eb'
GROSS_COL = '#e41a1c'
GROSS_LINE = '#ef6a6a'
NET_LINE = '#3c3c3c'
REM_COL = '#4daf4a'
REM_LINE = '#7dbd8a'
ZERO_COL = '#7f7f7f'
EDGE_LS = (0, (3, 2))

W, H = 1355, 1413
fig = plt.figure(figsize=(W / 100, H / 100), dpi=100)
fig.patch.set_facecolor('white')

AX_W, AX_H = 132, 80
for i, code in enumerate(CODES):
    r, c = divmod(i, 8)
    x0 = 80 + c * 161.9
    yb = 97 + r * 117.0
    ax = fig.add_axes([x0 / W, 1 - yb / H, AX_W / W, AX_H / H])
    ax.patch.set_alpha(0)
    lo, hi = YLIMS[i]
    ax.set_xlim(1950, 2024.5)
    ax.set_ylim(lo, hi)

    g = np.array(GROSS[i]); n = np.array(NET[i]); rm = np.array(REMOVAL[i])
    gd, gu = GROSS_RANGE[i]; nd, nu = NET_RANGE[i]; rd, ru = REMOVAL_RANGE[i]

    ax.axhspan(lo, 0, color=BG_NEG, lw=0, zorder=0)
    ax.fill_between(RYEARS, rm - rd, rm + ru, color=REM_COL, alpha=0.22, lw=0, zorder=1)
    ax.fill_between(YEARS, n - nd, n + nu, color='black', alpha=0.28, lw=0, zorder=2)
    ax.fill_between(YEARS, g - gd, g + gu, color=GROSS_COL, alpha=0.28, lw=0, zorder=3)
    # thin dashed edges of the model ranges
    for yy in (rm - rd, rm + ru):
        ax.plot(RYEARS, yy, color=REM_COL, lw=0.6, ls=EDGE_LS, alpha=0.45, zorder=3.5)
    for yy in (n - nd, n + nu):
        ax.plot(YEARS, yy, color='black', lw=0.6, ls=EDGE_LS, alpha=0.45, zorder=3.5)
    for yy in (g - gd, g + gu):
        ax.plot(YEARS, yy, color=GROSS_COL, lw=0.6, ls=EDGE_LS, alpha=0.45, zorder=3.5)
    ax.axhline(0, color=ZERO_COL, lw=1.6, ls=(0, (4, 2.5)), zorder=4)

    sns.lineplot(x=RYEARS, y=REMOVAL[i], ax=ax, color=REM_LINE, lw=1.4, zorder=5)
    sns.lineplot(x=YEARS, y=NET[i], ax=ax, color=NET_LINE, lw=1.3, zorder=6)
    sns.lineplot(x=YEARS, y=GROSS[i], ax=ax, color=GROSS_LINE, lw=1.4, zorder=7)

    # axes in the style of base R: axis lines only across the tick range
    step = YSTEPS[i]
    k0 = int(np.ceil(lo / step - 1e-6)); k1 = int(np.floor(hi / step + 1e-6))
    yt = [k * step for k in range(k0, k1 + 1)]
    labmap = {round(float(s), 6): s for s in YTICKLABELS[i]}
    ylabs = [labmap.get(round(t, 6), '') for t in yt]
    ax.set_yticks(yt)
    ax.set_yticklabels(ylabs)
    ax.set_xticks(list(range(1950, 2021, 10)))
    ax.set_xticklabels(['1950', '', '', '1980', '', '', '2010', ''])
    ax.set_xlabel(''); ax.set_ylabel('')
    for s in ['top', 'right']:
        ax.spines[s].set_visible(False)
    ax.spines['left'].set_bounds(yt[0], yt[-1])
    ax.spines['bottom'].set_bounds(1950, 2020)
    for s in ['left', 'bottom']:
        ax.spines[s].set_linewidth(1.0)
        ax.spines[s].set_color('black')
    ax.tick_params(axis='both', which='major', direction='out', length=4, width=1.0,
                   color='black', labelsize=9.5, pad=1.5, bottom=True, left=True)
    ax.tick_params(axis='y', labelrotation=90)
    for lab in ax.get_yticklabels():
        lab.set_va('center')
    ax.text(0.5, 1.0, f"{i + 1} - {code}", transform=ax.transAxes,
            ha='center', va='center', fontsize=11.5, zorder=10)
    if ax.get_legend() is not None:
        ax.get_legend().remove()

fig.text(24 / W, 1 - 702 / H, r"Gross and net $f_{\mathrm{LULUCF}}$ (GtC yr$^{-1}$)",
         rotation=90, ha='center', va='center', fontsize=18.5)

# ------------------------------------------------------------------ legend
lg = fig.add_axes([0, 0, 1, 1])
lg.set_xlim(0, W); lg.set_ylim(H, 0); lg.axis('off'); lg.patch.set_alpha(0)
items = [("Gross emissions", '#e8262a', 3, 1323), ("Net flux", 'black', 3, 1348),
         ("Gross removals", '#6db57f', 3, 1373)]
for txt, col, lw, y in items:
    lg.plot([885, 943], [y, y], color=col, lw=lw, solid_capstyle='butt')
    lg.text(960, y, txt, fontsize=15, va='center', ha='left')
lg.plot([887, 943], [1400, 1400], color='#999999', lw=5.5, solid_capstyle='round')
lg.text(962, 1400, "BKs 2022 (mean + range)", fontsize=15, va='center', ha='left')
styles = [("BLUE22", (0, (1.95, 2.4, 4.3, 2.9)), 1323), ("OSCAR22", (0, (1.95, 1.95)), 1348),
          ("H&N22", (0, (4.3, 4.3)), 1373)]
for txt, ls, y in styles:
    lg.plot([1148, 1207], [y, y], color='black', lw=3, ls=ls, dash_capstyle='butt')
    lg.text(1225, y, txt, fontsize=15, va='center', ha='left')

fig.savefig('out.png', dpi=100)
